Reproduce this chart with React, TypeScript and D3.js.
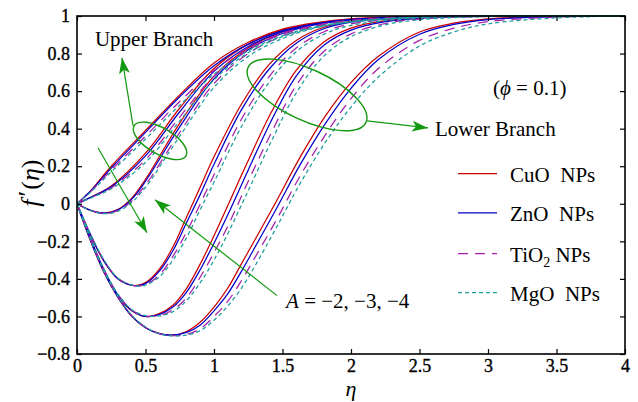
import React, { useEffect, useRef } from "react";
import * as d3 from "d3";

// axis ticks
const xTicks = [0, 0.5, 1, 1.5, 2, 2.5, 3, 3.5, 4];
const yTicks = [-0.8, -0.6, -0.4, -0.2, 0, 0.2, 0.4, 0.6, 0.8, 1];

// Upper branch, A = -2
const etaU1 = [0, 0.1, 0.25, 0.5, 0.75, 1, 1.25, 1.5, 1.75, 2, 2.5, 3, 4];
const cuoU1 = [0, 0.07, 0.2, 0.39, 0.58, 0.75, 0.86, 0.93, 0.965, 0.985, 0.998, 1, 1];
const znoU1 = [0, 0.068, 0.19, 0.38, 0.57, 0.735, 0.85, 0.922, 0.96, 0.982, 0.997, 1, 1];
const tio2U1 = [0, 0.065, 0.18, 0.36, 0.545, 0.71, 0.83, 0.908, 0.952, 0.977, 0.996, 1, 1];
const mgoU1 = [0, 0.063, 0.17, 0.345, 0.525, 0.69, 0.815, 0.895, 0.944, 0.972, 0.995, 0.999, 1];

// Upper branch, A = -3
const etaU2 = [0, 0.1, 0.25, 0.5, 0.75, 1, 1.25, 1.5, 1.75, 2, 2.5, 3, 4];
const cuoU2 = [0, 0.035, 0.095, 0.27, 0.51, 0.72, 0.85, 0.925, 0.962, 0.983, 0.997, 1, 1];
const znoU2 = [0, 0.034, 0.09, 0.255, 0.49, 0.705, 0.838, 0.917, 0.957, 0.98, 0.996, 1, 1];
const tio2U2 = [0, 0.032, 0.085, 0.235, 0.462, 0.68, 0.82, 0.903, 0.948, 0.974, 0.995, 0.999, 1];
const mgoU2 = [0, 0.031, 0.08, 0.22, 0.442, 0.66, 0.805, 0.89, 0.94, 0.969, 0.994, 0.999, 1];

// Upper branch, A = -4
const etaU3 = [0, 0.1, 0.2, 0.3, 0.4, 0.5, 0.75, 1, 1.25, 1.5, 1.75, 2, 2.5, 3, 4];
const cuoU3 = [0, -0.035, -0.05, -0.03, 0.03, 0.13, 0.43, 0.68, 0.83, 0.915, 0.96, 0.982, 0.997, 1, 1];
const znoU3 = [0, -0.035, -0.05, -0.032, 0.025, 0.12, 0.41, 0.665, 0.82, 0.907, 0.955, 0.979, 0.996, 1, 1];
const tio2U3 = [0, -0.036, -0.052, -0.036, 0.015, 0.1, 0.38, 0.64, 0.8, 0.893, 0.946, 0.973, 0.995, 0.999, 1];
const mgoU3 = [0, -0.036, -0.053, -0.04, 0.008, 0.088, 0.36, 0.62, 0.785, 0.88, 0.938, 0.968, 0.993, 0.999, 1];

// Lower branch, A = -2
const etaL1 = [0, 0.1, 0.2, 0.3, 0.42, 0.5, 0.6, 0.7, 0.8, 0.9, 1.0, 1.2, 1.4, 1.6, 1.8, 2.0, 2.5, 3, 4];
const cuoL1 = [0, -0.17, -0.31, -0.4, -0.436, -0.42, -0.35, -0.23, -0.07, 0.09, 0.25, 0.53, 0.74, 0.87, 0.94, 0.972, 0.995, 1, 1];
const znoL1 = [0, -0.168, -0.308, -0.4, -0.436, -0.425, -0.36, -0.25, -0.1, 0.05, 0.21, 0.5, 0.715, 0.855, 0.932, 0.967, 0.994, 1, 1];
const tio2L1 = [0, -0.165, -0.305, -0.398, -0.436, -0.43, -0.38, -0.28, -0.15, 0.0, 0.155, 0.45, 0.675, 0.83, 0.915, 0.958, 0.992, 0.999, 1];
const mgoL1 = [0, -0.163, -0.303, -0.396, -0.436, -0.433, -0.39, -0.3, -0.18, -0.03, 0.115, 0.41, 0.645, 0.81, 0.902, 0.95, 0.99, 0.999, 1];

// Lower branch, A = -3
const etaL2 = [0, 0.1, 0.2, 0.3, 0.4, 0.5, 0.6, 0.7, 0.8, 0.9, 1.0, 1.1, 1.25, 1.42, 1.6, 1.8, 2.0, 2.25, 2.5, 3, 4];
const cuoL2 = [0, -0.19, -0.36, -0.49, -0.57, -0.6, -0.585, -0.54, -0.45, -0.32, -0.17, -0.01, 0.23, 0.49, 0.71, 0.86, 0.935, 0.975, 0.99, 0.999, 1];
const znoL2 = [0, -0.188, -0.357, -0.487, -0.568, -0.6, -0.59, -0.55, -0.47, -0.35, -0.21, -0.06, 0.18, 0.445, 0.68, 0.843, 0.925, 0.97, 0.988, 0.998, 1];
const tio2L2 = [0, -0.186, -0.354, -0.484, -0.566, -0.598, -0.595, -0.565, -0.5, -0.39, -0.26, -0.12, 0.12, 0.38, 0.63, 0.81, 0.905, 0.96, 0.984, 0.998, 1];
const mgoL2 = [0, -0.184, -0.352, -0.482, -0.564, -0.596, -0.597, -0.575, -0.515, -0.42, -0.3, -0.16, 0.07, 0.335, 0.59, 0.785, 0.89, 0.953, 0.98, 0.997, 1];

// Lower branch, A = -4
const etaL3 = [0, 0.1, 0.2, 0.3, 0.4, 0.5, 0.6, 0.69, 0.8, 0.9, 1.0, 1.1, 1.2, 1.3, 1.46, 1.63, 1.82, 2.0, 2.2, 2.5, 2.75, 3, 3.5, 4];
const cuoL3 = [0, -0.2, -0.37, -0.5, -0.6, -0.66, -0.69, -0.7, -0.68, -0.63, -0.55, -0.45, -0.32, -0.19, 0.02, 0.25, 0.475, 0.645, 0.785, 0.915, 0.962, 0.985, 0.998, 1];
const znoL3 = [0, -0.198, -0.368, -0.498, -0.598, -0.66, -0.692, -0.7, -0.685, -0.645, -0.57, -0.48, -0.36, -0.23, -0.02, 0.21, 0.435, 0.615, 0.768, 0.903, 0.955, 0.981, 0.997, 1];
const tio2L3 = [0, -0.196, -0.366, -0.496, -0.596, -0.658, -0.692, -0.702, -0.695, -0.665, -0.6, -0.52, -0.41, -0.285, -0.08, 0.15, 0.375, 0.56, 0.72, 0.87, 0.935, 0.97, 0.994, 1];
const mgoL3 = [0, -0.194, -0.364, -0.494, -0.594, -0.656, -0.692, -0.703, -0.7, -0.675, -0.62, -0.545, -0.45, -0.33, -0.12, 0.11, 0.335, 0.515, 0.675, 0.84, 0.915, 0.958, 0.99, 1];

const groups = [
  { eta: etaU1, vals: [cuoU1, znoU1, tio2U1, mgoU1] },
  { eta: etaU2, vals: [cuoU2, znoU2, tio2U2, mgoU2] },
  { eta: etaU3, vals: [cuoU3, znoU3, tio2U3, mgoU3] },
  { eta: etaL1, vals: [cuoL1, znoL1, tio2L1, mgoL1] },
  { eta: etaL2, vals: [cuoL2, znoL2, tio2L2, mgoL2] },
  { eta: etaL3, vals: [cuoL3, znoL3, tio2L3, mgoL3] },
];

const fluids = [
  { name: "CuO", color: "#cc0000", dash: null },
  { name: "ZnO", color: "#0000cc", dash: null },
  { name: "TiO2", color: "#a51fa8", dash: "10,7" },
  { name: "MgO", color: "#1c9c9c", dash: "4,3" },
];

const GREEN = "#13990f";
const FONT = "'Liberation Serif', 'Times New Roman', serif";

const App = () => {
  const ref = useRef<SVGSVGElement>(null);

  useEffect(() => {
    const margin = { top: 16, right: 13, bottom: 48, left: 77 };
    const width = 638 - margin.left - margin.right;
    const height = 402 - margin.top - margin.bottom;

    const svg = d3.select(ref.current);
    svg.selectAll("*").remove();

    const defs = svg.append("defs");
    defs
      .append("marker")
      .attr("id", "arrow")
      .attr("markerUnits", "userSpaceOnUse")
      .attr("viewBox", "0 -6 16 12")
      .attr("refX", 16)
      .attr("refY", 0)
      .attr("markerWidth", 16)
      .attr("markerHeight", 12)
      .attr("orient", "auto")
      .append("path")
      .attr("d", "M0,-5.5L16,0L0,5.5L4,0Z")
      .attr("fill", GREEN);
    defs
      .append("clipPath")
      .attr("id", "plot-clip")
      .append("rect")
      .attr("y", -2)
      .attr("width", width)
      .attr("height", height + 2);

    const g = svg
      .append("g")
      .attr("transform", `translate(${margin.left},${margin.top})`);

    const x = d3.scaleLinear().domain([0, 4]).range([0, width]);
    const y = d3.scaleLinear().domain([-0.8, 1]).range([height, 0]);
    const fmt = d3.format("~g");

    // curves
    const line = d3
      .line<[number, number]>()
      .x((d) => x(d[0]))
      .y((d) => y(d[1]))
      .curve(d3.curveCatmullRom.alpha(0.5));

    const curves = g.append("g").attr("clip-path", "url(#plot-clip)");
    fluids.forEach((fl, i) => {
      groups.forEach((grp) => {
        const pts = grp.eta.map((e, k) => [e, grp.vals[i][k]] as [number, number]);
        curves
          .append("path")
          .attr("d", line(pts))
          .attr("fill", "none")
          .attr("stroke", fl.color)
          .attr("stroke-width", 1.25)
          .attr("stroke-dasharray", fl.dash);
      });
    });

    // axes, ticks pointing inward
    const styleAxis = (sel) => {
      sel.select(".domain").remove();
      sel.selectAll("line").attr("stroke", "#000").attr("stroke-width", 1.2);
      sel
        .selectAll("text")
        .attr("font-family", FONT)
        .attr("font-size", 18)
        .attr("fill", "#000")
        .attr("stroke", "#000")
        .attr("stroke-width", 0.35);
    };
    g.append("g")
      .attr("transform", `translate(0,${height})`)
      .call(d3.axisBottom(x).tickValues(xTicks).tickSize(-5).tickPadding(5).tickFormat(fmt))
      .call(styleAxis);
    g.append("g")
      .call(d3.axisLeft(y).tickValues(yTicks).tickSize(-5).tickPadding(7).tickFormat(fmt))
      .call(styleAxis);
    g.append("g")
      .call(d3.axisTop(x).tickValues(xTicks).tickSize(-5).tickFormat(() => ""))
      .call(styleAxis);
    g.append("g")
      .attr("transform", `translate(${width},0)`)
      .call(d3.axisRight(y).tickValues(yTicks).tickSize(-5).tickFormat(() => ""))
      .call(styleAxis);

    g.append("rect")
      .attr("width", width)
      .attr("height", height)
      .attr("fill", "none")
      .attr("stroke", "#000")
      .attr("stroke-width", 1.6);

    // axis titles
    g.append("text")
      .attr("x", x(2))
      .attr("y", height + 42)
      .attr("text-anchor", "middle")
      .attr("font-family", FONT)
      .attr("font-style", "italic")
      .attr("font-size", 22)
      .text("η");

    const yl = g
      .append("text")
      .attr("transform", `translate(-38,${y(0.11)}) rotate(-90)`)
      .attr("text-anchor", "middle")
      .attr("font-family", FONT)
      .attr("font-style", "italic")
      .attr("font-size", 26);
    yl.append("tspan").text("f");
    yl.append("tspan").attr("font-style", "normal").attr("dx", 3).attr("dy", -3).text("′");
    yl.append("tspan").attr("font-style", "normal").attr("dx", 1).attr("dy", 3).text("(");
    yl.append("tspan").text("η");
    yl.append("tspan").attr("font-style", "normal").text(")");

    // annotations
    const arrow = (x1, y1, x2, y2) =>
      g
        .append("line")
        .attr("x1", x(x1))
        .attr("y1", y(y1))
        .attr("x2", x(x2))
        .attr("y2", y(y2))
        .attr("stroke", GREEN)
        .attr("stroke-width", 1.2)
        .attr("marker-end", "url(#arrow)");

    const ellipse = (cx, cy, rx, ry, rot) =>
      g
        .append("ellipse")
        .attr("transform", `translate(${x(cx)},${y(cy)}) rotate(${rot})`)
        .attr("rx", rx)
        .attr("ry", ry)
        .attr("fill", "none")
        .attr("stroke", GREEN)
        .attr("stroke-width", 1.4);

    const label = (tx, ty) =>
      g
        .append("text")
        .attr("x", x(tx))
        .attr("y", y(ty))
        .attr("font-family", FONT)
        .attr("font-size", 21)
        .attr("fill", "#000")
        .style("white-space", "pre");

    ellipse(0.606, 0.335, 30, 13, 30);
    arrow(0.409, 0.415, 0.328, 0.777);
    label(0.131, 0.84).text("Upper Branch");

    ellipse(1.679, 0.58, 65, 25.5, 25);
    arrow(2.117, 0.441, 2.562, 0.404);
    label(2.613, 0.362).text("Lower Branch");

    const phi = label(3.036, 0.58);
    phi.append("tspan").text("(");
    phi.append("tspan").attr("font-style", "italic").text("ϕ");
    phi.append("tspan").text(" = 0.1)");

    arrow(0.153, 0.298, 0.511, -0.154);
    arrow(1.46, -0.489, 0.569, 0.021);
    const aText = label(1.526, -0.553);
    aText.append("tspan").attr("font-style", "italic").text("A");
    aText.append("tspan").text(" = −2, −3, −4");

    // legend
    const legendY = [0.16, -0.048, -0.266, -0.473];
    fluids.forEach((fl, i) => {
      g.append("line")
        .attr("x1", x(2.781))
        .attr("x2", x(3.066))
        .attr("y1", y(legendY[i]))
        .attr("y2", y(legendY[i]))
        .attr("stroke", fl.color)
        .attr("stroke-width", 1.25)
        .attr("stroke-dasharray", fl.dash);
      const t = g
        .append("text")
        .attr("x", x(3.161))
        .attr("y", y(legendY[i]) + 8)
        .attr("font-family", FONT)
        .attr("font-size", 21)
        .style("white-space", "pre");
      if (fl.name === "TiO2") {
        t.append("tspan").text("TiO");
        t.append("tspan").attr("font-size", 14).attr("dy", 5).text("2");
        t.append("tspan").attr("dy", -5).text(" NPs");
      } else {
        t.text(`${fl.name}  NPs`);
      }
    });
  }, []);

  return (
    <svg
      ref={ref}
      width={638}
      height={402}
      style={{ position: "absolute", left: 0, top: 0, background: "#fff" }}
    ></svg>
  );
};

export default App;
